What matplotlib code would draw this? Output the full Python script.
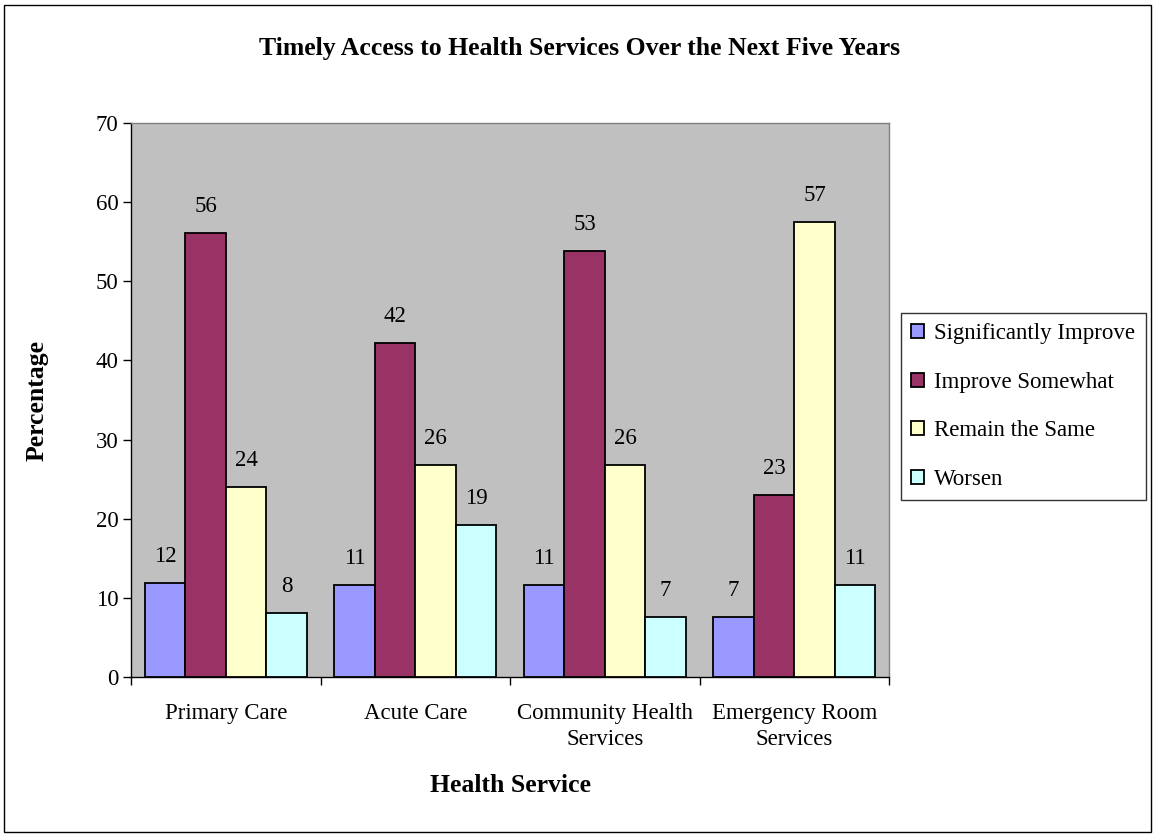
import matplotlib.pyplot as plt
from matplotlib.patches import Rectangle
import numpy as np

plt.rcParams['font.family'] = ['Liberation Serif', 'DejaVu Serif']

# data
categories = ['Primary Care', 'Acute Care', 'Community Health\nServices', 'Emergency Room\nServices']
series_names = ['Significantly Improve', 'Improve Somewhat', 'Remain the Same', 'Worsen']
sig_improve = [11.9, 11.6, 11.6, 7.6]
improve_some = [56.1, 42.2, 53.8, 23.0]
remain_same = [24.0, 26.8, 26.8, 57.5]
worsen = [8.1, 19.2, 7.6, 11.6]
# labels as printed on the chart
sig_labels = ['12', '11', '11', '7']
some_labels = ['56', '42', '53', '23']
same_labels = ['24', '26', '26', '57']
worse_labels = ['8', '19', '7', '11']

colors = ['#9999FF', '#993366', '#FFFFCC', '#CCFFFF']
fs = 16.5

fig = plt.figure(figsize=(11.56, 8.36), dpi=100)
ax = fig.add_axes([131/1156, 1-677/836, 758/1156, 554/836])
ax.set_facecolor('#C0C0C0')

x = np.arange(len(categories))
w = 0.214
series = [sig_improve, improve_some, remain_same, worsen]
labels = [sig_labels, some_labels, same_labels, worse_labels]
for i, (vals, labs) in enumerate(zip(series, labels)):
    pos = x + (i - 1.5) * w
    ax.bar(pos, vals, w, color=colors[i], edgecolor='black', linewidth=1.3,
           label=series_names[i], zorder=3)
    for px, v, lab in zip(pos, vals, labs):
        ax.annotate(lab, (px, v), xytext=(0, 19), textcoords='offset points',
                    ha='center', va='center', fontsize=fs)

ax.set_xlim(-0.5, len(categories) - 0.5)
ax.set_ylim(0, 70)
ax.set_yticks(range(0, 71, 10))
ax.set_xticks(x)
ax.set_xticklabels(categories, fontsize=fs, linespacing=1.3)
ax.set_xticks(np.arange(-0.5, len(categories), 1), minor=True)
ax.tick_params(axis='x', which='major', length=0, pad=19)
ax.tick_params(axis='x', which='minor', length=6, width=1, direction='out')
ax.tick_params(axis='y', labelsize=fs, length=6, width=1, direction='out', pad=3)

for s in ['left', 'bottom']:
    ax.spines[s].set_color('black')
    ax.spines[s].set_linewidth(1)
for s in ['top', 'right']:
    ax.spines[s].set_color('#808080')
    ax.spines[s].set_linewidth(1)

ax.set_ylabel('Percentage', fontsize=18.5, fontweight='bold', va='center')
ax.yaxis.set_label_coords(-(131 - 37) / 758, 0.5)
ax.set_xlabel('Health Service', fontsize=18.5, fontweight='bold', va='center')
ax.xaxis.set_label_coords(0.5, -(785 - 677) / 554)
fig.text(580/1156, 1 - 48/836, 'Timely Access to Health Services Over the Next Five Years',
         ha='center', va='center', fontsize=18.5, fontweight='bold')

leg = ax.legend(loc='upper left', bbox_to_anchor=(901/1156, 1 - 313/836),
                bbox_transform=fig.transFigure, fontsize=fs, frameon=True,
                fancybox=False, edgecolor='black', handlelength=0.55, handleheight=0.55,
                handletextpad=0.45, labelspacing=1.2, borderpad=0.45, borderaxespad=0)
leg.get_frame().set_linewidth(1)

# outer chart border
fig.patches.append(Rectangle((4/1156, 4/836), 1147/1156, 827/836, transform=fig.transFigure,
                             fill=False, edgecolor='black', linewidth=1))

fig.savefig('out.png', dpi=100)
